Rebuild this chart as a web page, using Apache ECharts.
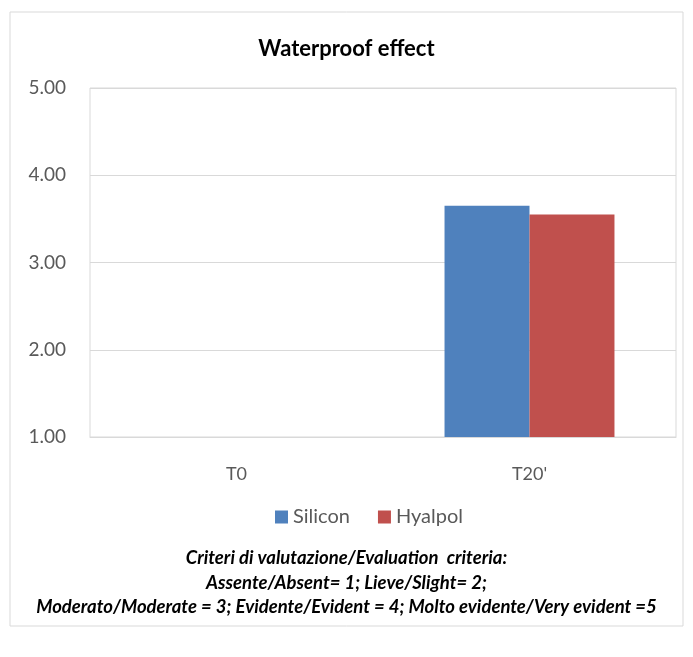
<!DOCTYPE html>
<html><head><meta charset="utf-8">
<script src="https://cdn.jsdelivr.net/npm/echarts@6/dist/echarts.min.js"></script>
<style>html,body{margin:0;padding:0;background:#fff}#c{width:693px;height:657px}</style>
</head><body><div id="c"></div>
<script>
const categories = ["T0", "T20'"];
const silicon = [1.00, 3.65];
const hyalpol = [1.00, 3.55];
const yTicks = [1, 2, 3, 4, 5];
const seriesNames = ["Silicon", "Hyalpol"];
const footnote = [
  "Criteri di valutazione/Evaluation  criteria:",
  "Assente/Absent= 1; Lieve/Slight= 2;",
  "Moderato/Moderate = 3; Evidente/Evident = 4; Molto evidente/Very evident =5"
];
const F = "Lato, 'Open Sans', sans-serif";
const chart = echarts.init(document.getElementById('c'));
chart.setOption({
  animation: false,
  backgroundColor: '#fff',
  title: {text: 'Waterproof effect', left: 'center', top: 33,
    textStyle: {fontFamily: F, fontSize: 22, fontWeight: 'bold', color: '#000'}},
  grid: {left: 90, right: 17, top: 88, bottom: 220, show: true, borderColor: '#d9d9d9', borderWidth: 1},
  legend: {data: seriesNames, top: 502, left: 270, itemWidth: 13, itemHeight: 13, itemGap: 28,
    icon: 'rect', textStyle: {fontFamily: F, fontSize: 20, color: '#595959'}},
  xAxis: {type: 'category', data: categories,
    axisLine: {lineStyle: {color: '#d9d9d9'}}, axisTick: {show: false},
    axisLabel: {fontFamily: F, fontSize: 18, color: '#595959', margin: 28}},
  yAxis: {type: 'value', min: yTicks[0], max: yTicks[yTicks.length-1], interval: 1,
    axisLine: {show: false}, axisTick: {show: false},
    splitLine: {lineStyle: {color: '#d9d9d9'}},
    axisLabel: {fontFamily: F, fontSize: 19, color: '#595959', margin: 24, formatter: v => v.toFixed(2)}},
  series: [
    {name: seriesNames[0], type: 'bar', data: silicon, barGap: '0%', barCategoryGap: '42%', itemStyle: {color: '#4f81bd'}},
    {name: seriesNames[1], type: 'bar', data: hyalpol, itemStyle: {color: '#c0504d'}}
  ],
  graphic: [
    {type: 'rect', shape: {x: 10, y: 12, width: 673, height: 614}, style: {fill: 'none', stroke: '#d9d9d9', lineWidth: 1}, z: -1},
    ...footnote.map((t, i) => ({type: 'text', left: 'center', top: 549 + i * 24.5,
      style: {text: t, font: 'italic bold 18.5px ' + F, fill: '#000'}}))
  ]
});
</script></body></html>
